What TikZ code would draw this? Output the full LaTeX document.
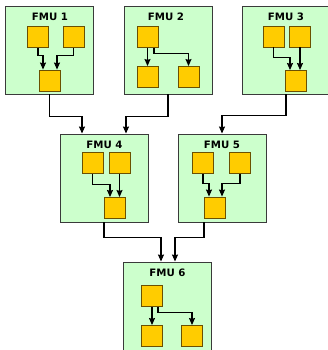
\documentclass[tikz,border=0pt]{standalone}
\usepackage{fontspec}
\setmainfont{DejaVu Sans}
\usetikzlibrary{arrows.meta}
\definecolor{boxfill}{HTML}{CCFFCC}
\definecolor{boxline}{HTML}{3A3A3A}
\definecolor{sqfill}{HTML}{FFCC00}
\definecolor{sqline}{HTML}{6B5000}
\begin{document}
\begin{tikzpicture}[x=1pt,y=-1pt,
 fmu/.style={draw=boxline, fill=boxfill, line width=0.95pt, minimum width=88pt, minimum height=88pt, inner sep=0pt},
 sq/.style={draw=sqline, fill=sqfill, line width=0.9pt, minimum size=21pt, inner sep=0pt},
 title/.style={font=\bfseries\fontsize{10.2}{11}\selectfont, anchor=base, inner sep=0pt},
 conn/.style={draw=black, line width=1.1pt, -{Stealth[length=7pt,width=6pt,inset=0.8pt]}}]
\clip (0,0) rectangle (328,350);
% FMU boxes
\node[fmu] (f1) at (49.5,50) {};
\node[fmu] (f2) at (168,50) {};
\node[fmu, minimum width=90pt] (f3) at (287,50) {};
\node[fmu] (f4) at (104,178) {};
\node[fmu] (f5) at (222,178) {};
\node[fmu, minimum height=90pt] (f6) at (167.5,307) {};
% titles
\node[title] (t1) at (50,20.5) {FMU 1};
\node[title] (t2) at (166,20.5) {FMU 2};
\node[title] (t3) at (286,20.5) {FMU 3};
\node[title] (t4) at (104.5,148.5) {FMU 4};
\node[title] (t5) at (222,148.5) {FMU 5};
\node[title] (t6) at (167.5,276.5) {FMU 6};
% squares
\node[sq] (f1a) at (38,37) {};
\node[sq] (f1b) at (73.5,37) {};
\node[sq] (f1c) at (50,80.5) {};
\node[sq] (f2a) at (147.5,37) {};
\node[sq] (f2b) at (147.5,77) {};
\node[sq] (f2c) at (188.5,77) {};
\node[sq] (f3a) at (273.5,36.5) {};
\node[sq] (f3b) at (300,36.5) {};
\node[sq] (f3c) at (295.5,81) {};
\node[sq] (f4a) at (92.5,163) {};
\node[sq] (f4b) at (119.5,163) {};
\node[sq] (f4c) at (114.5,208) {};
\node[sq] (f5a) at (203,163) {};
\node[sq] (f5b) at (240,163) {};
\node[sq] (f5c) at (215,207.5) {};
\node[sq] (f6a) at (152,296) {};
\node[sq] (f6b) at (152,336) {};
\node[sq] (f6c) at (192,336) {};
% inner connectors
\draw[conn] (f1a.south) -- ++(0,7.5) -| ([xshift=-7pt]f1c.north);
\draw[conn] (f1b.south) -- ++(0,7.5) -| ([xshift=7pt]f1c.north);
\draw[conn] (f2a.south) -- (f2b.north);
\draw[conn] ([xshift=6.5pt]f2a.south) -- ++(0,5.5) -| (f2c.north);
\draw[conn] (f3a.south) -- ++(0,10) -| ([xshift=-5.5pt]f3c.north);
\draw[conn] (f3b.south) -- (f3b.south |- f3c.north);
\draw[conn] (f4a.south) -- ++(0,10.5) -| ([xshift=-4.5pt]f4c.north);
\draw[conn] (f4b.south) -- (f4b.south |- f4c.north);
\draw[conn] (f5a.south) -- ++(0,9.5) -| ([xshift=-6pt]f5c.north);
\draw[conn] (f5b.south) -- ++(0,9.5) -| ([xshift=7pt]f5c.north);
\draw[conn] (f6a.south) -- (f6b.north);
\draw[conn] ([xshift=6pt]f6a.south) -- ++(0,5.5) -| (f6c.north);
% connectors between FMUs
\draw[conn] (f1.south) -- ++(0,22) -| ([xshift=-22pt]f4.north);
\draw[conn] (f2.south) -- ++(0,22) -| ([xshift=22pt]f4.north);
\draw[conn] ([xshift=-1pt]f3.south) -- ++(0,21) -| (f5.north);
\draw[conn] (f4.south) -- ++(0,15) -| ([xshift=-6.5pt]f6.north);
\draw[conn] ([xshift=-18pt]f5.south) -- ++(0,15) -| ([xshift=7.5pt]f6.north);
\end{tikzpicture}
\end{document}
